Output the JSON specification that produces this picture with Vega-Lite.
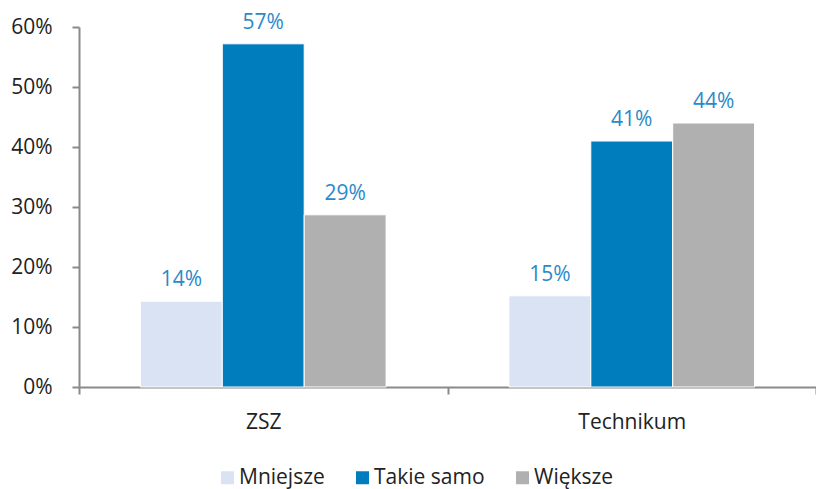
{
  "$schema": "https://vega.github.io/schema/vega-lite/v6.json",
  "autosize": {"type": "none"},
  "padding": {"left": 79, "top": 27, "right": 0, "bottom": 102},
  "width": 737,
  "height": 360,
  "background": "white",
  "config": {
    "view": {"stroke": null},
    "font": "Open Sans"
  },
  "data": {
    "values": [
      {"grupa": "ZSZ", "seria": "Mniejsze", "wartosc": 0.143},
      {"grupa": "ZSZ", "seria": "Takie samo", "wartosc": 0.572},
      {"grupa": "ZSZ", "seria": "Większe", "wartosc": 0.287},
      {"grupa": "Technikum", "seria": "Mniejsze", "wartosc": 0.152},
      {"grupa": "Technikum", "seria": "Takie samo", "wartosc": 0.41},
      {"grupa": "Technikum", "seria": "Większe", "wartosc": 0.44}
    ]
  },
  "encoding": {
    "x": {
      "field": "grupa",
      "type": "nominal",
      "sort": ["ZSZ", "Technikum"],
      "title": null,
      "scale": {"paddingInner": 0, "paddingOuter": 0},
      "axis": {
        "labelAngle": 0,
        "labelFontSize": 21,
        "labelColor": "#222222",
        "labelPadding": 17,
        "tickBand": "extent",
        "tickSize": 7,
        "tickWidth": 2,
        "tickColor": "#8a8a8a",
        "domainColor": "#8a8a8a",
        "domainWidth": 2
      }
    },
    "xOffset": {
      "field": "seria",
      "type": "nominal",
      "sort": ["Mniejsze", "Takie samo", "Większe"],
      "scale": {"paddingInner": 0, "paddingOuter": 0.75}
    },
    "y": {
      "field": "wartosc",
      "type": "quantitative",
      "title": null,
      "scale": {"domain": [0, 0.6], "nice": false},
      "axis": {
        "values": [0, 0.1, 0.2, 0.3, 0.4, 0.5, 0.6],
        "format": ".0%",
        "grid": false,
        "labelFontSize": 21,
        "labelColor": "#222222",
        "labelPadding": 20,
        "tickSize": 7,
        "tickWidth": 2,
        "tickColor": "#8a8a8a",
        "domainColor": "#8a8a8a",
        "domainWidth": 2
      }
    }
  },
  "layer": [
    {
      "mark": {"type": "bar", "stroke": "white", "strokeWidth": 1},
      "encoding": {
        "color": {
          "field": "seria",
          "type": "nominal",
          "sort": ["Mniejsze", "Takie samo", "Większe"],
          "scale": {
            "domain": ["Mniejsze", "Takie samo", "Większe"],
            "range": ["#d9e3f4", "#007dbd", "#b0b0b0"]
          },
          "legend": {
            "title": null,
            "orient": "none",
            "direction": "horizontal",
            "legendX": 138,
            "legendY": 440,
            "symbolType": "square",
            "symbolSize": 169,
            "symbolStrokeWidth": 0,
            "labelFontSize": 21,
            "labelColor": "#222222",
            "labelOffset": 1,
            "columnPadding": 27
          }
        }
      }
    },
    {
      "mark": {"type": "text", "baseline": "alphabetic", "dy": -15, "fontSize": 21, "color": "#2a8ac9"},
      "encoding": {
        "text": {"field": "wartosc", "type": "quantitative", "format": ".0%"}
      }
    }
  ]
}
